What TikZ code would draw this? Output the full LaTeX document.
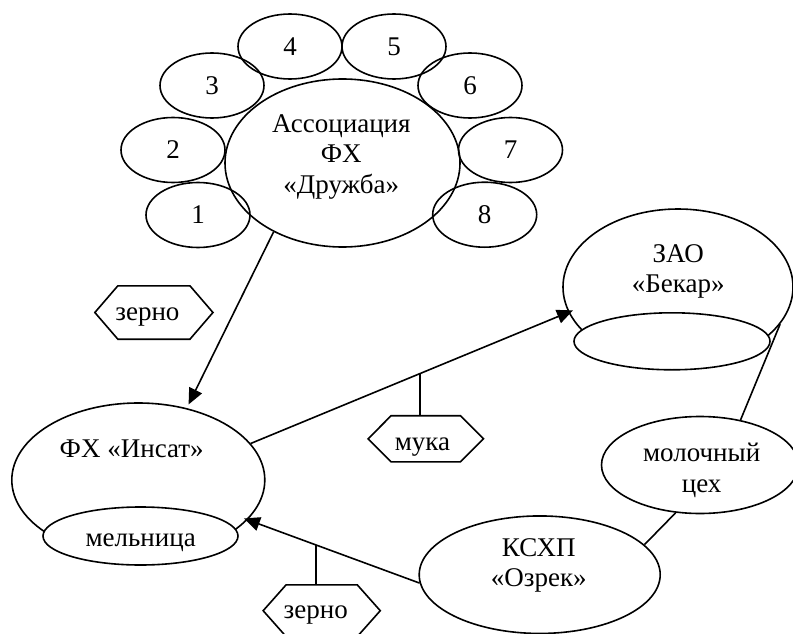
\documentclass[tikz,border=0pt]{standalone}
\usepackage{fontspec}
\setmainfont{Liberation Serif}
\usetikzlibrary{arrows.meta,shapes.geometric}

% outline of a flat hexagon drawn around an (invisible) rectangular node
\newcommand{\hexoutline}[1]{%
  \draw[hexline] (#1.west) -- ([xshift=23pt]#1.north west) -- ([xshift=-23pt]#1.north east)
    -- (#1.east) -- ([xshift=-23pt]#1.south east) -- ([xshift=23pt]#1.south west) -- cycle;}

\begin{document}
\begin{tikzpicture}[x=1pt,y=-1pt,
  every node/.style={font=\fontsize{27}{30.5}\selectfont},
  oval/.style={ellipse, draw, line width=1.6pt, inner sep=0pt},
  petal/.style={oval, minimum width=104pt, minimum height=65pt},
  lbl/.style={inner sep=0pt, align=center},
  hexbox/.style={rectangle, inner sep=0pt},
  hexline/.style={line width=1.6pt, line join=miter},
  link/.style={line width=1.6pt},
  flow/.style={link, -{Triangle[length=16pt,width=14pt]}},
]
\useasboundingbox (0,0) rectangle (793,634);

% association of farms with its eight members
\node[oval, minimum width=235pt, minimum height=168pt] (assoc) at (342.5,163) {};
\node[lbl] (assocText) at (341.3,157) {Ассоциация\\ФХ\\«Дружба»};
\node[petal] (p1) at (198,215) {1};
\node[petal] (p2) at (173,150) {2};
\node[petal] (p3) at (212,85.5) {3};
\node[petal] (p4) at (290,46.5) {4};
\node[petal] (p5) at (394,46.5) {5};
\node[petal] (p6) at (470,85.5) {6};
\node[petal] (p7) at (510.5,150) {7};
\node[petal] (p8) at (484.7,214.7) {8};

% farm with its mill
\node[oval, minimum width=253pt, minimum height=154pt] (insat) at (138.3,480) {};
\node[lbl, anchor=base] (insatText) at (131.7,457.3) {ФХ «Инсат»};
\node[oval, fill=white, minimum width=195pt, minimum height=58pt] (mill) at (140.5,536) {};
\node[lbl, anchor=base] (millText) at (140.7,546) {мельница};

% bakery company with its unit
\node[oval, minimum width=230pt, minimum height=156pt] (zao) at (678,287) {};
\node[lbl] (zaoText) at (678.3,271.6) {ЗАО\\«Бекар»};
\node[oval, fill=white, minimum width=196pt, minimum height=57pt] (zaoUnit) at (672,341.3) {};

% dairy shop and the collective farm
\node[oval, minimum width=197pt, minimum height=97pt] (dairy) at (700,465) {};
\node[lbl] (dairyText) at (701.7,470.6) {молочный\\цех};
\node[oval, minimum width=241pt, minimum height=117.5pt] (ksxp) at (539.7,574.7) {};
\node[lbl] (ksxpText) at (538.8,565.6) {КСХП\\«Озрек»};

% product tags
\node[hexbox, minimum width=117.7pt, minimum height=53pt, text height=20pt, text depth=5pt]
  (grainA) at (153.9,312.5) {зерно\hspace*{13pt}};
\hexoutline{grainA}
\node[hexbox, minimum width=115pt, minimum height=45.7pt, text height=27pt, text depth=4.6pt]
  (flour) at (425.8,438.8) {мука\hspace*{6.6pt}};
\hexoutline{flour}
\node[hexbox, minimum width=116.7pt, minimum height=51.4pt, text height=20pt, text depth=5pt]
  (grainB) at (321.7,610.7) {зерно\hspace*{12pt}};
\hexoutline{grainB}

% flows between the enterprises
\draw[flow, shorten >=4pt] (assoc.225) -- (insat.56);
\draw[flow, shorten >=-5pt] (insat.18.6) -- (zao.193.5);
\path (insat.18.6) -- (zao.193.5) coordinate[pos=0.533] (flourTap);
\draw[link] (flourTap) -- (flourTap |- flour.north);
\draw[flow, shorten >=-4pt] (ksxp.184.9) -- (insat.340);
\path (ksxp.184.9) -- (insat.340) coordinate[pos=0.603] (grainTap);
\draw[link] (grainTap) -- (grainTap |- grainB.north);
\draw[link] (zao.340) -- (dairy.48);
\draw[link] (dairy.243.6) -- (ksxp.16);
\end{tikzpicture}
\end{document}
